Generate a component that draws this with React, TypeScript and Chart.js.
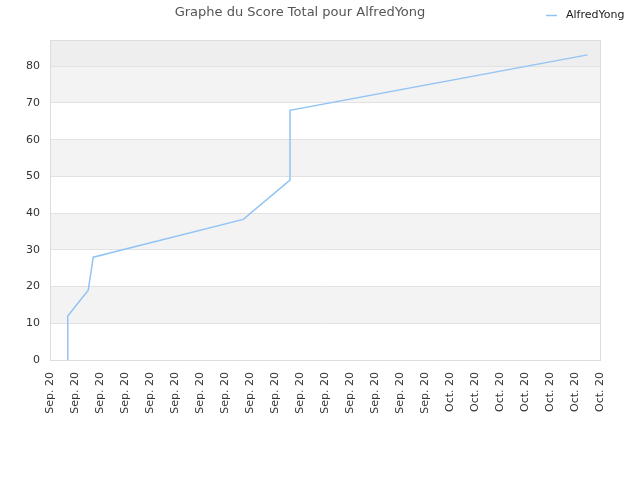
import { useEffect, useRef } from 'react';
import { Chart, registerables, Plugin } from 'chart.js';

Chart.register(...registerables);

// x positions are in label steps (0 = first "Sep. 20" tick)
const pointX = [0.68, 0.71, 1.53, 1.73, 7.73, 9.6, 9.6, 21.5];
const scores = [0, 12, 19, 28, 38.3, 49, 68, 83.1];

const xLabels = [
  'Sep. 20', 'Sep. 20', 'Sep. 20', 'Sep. 20', 'Sep. 20', 'Sep. 20', 'Sep. 20', 'Sep. 20',
  'Sep. 20', 'Sep. 20', 'Sep. 20', 'Sep. 20', 'Sep. 20', 'Sep. 20', 'Sep. 20', 'Sep. 20',
  'Oct. 20', 'Oct. 20', 'Oct. 20', 'Oct. 20', 'Oct. 20', 'Oct. 20', 'Oct. 20',
];

const playerName = 'AlfredYong';
const titleText = 'Graphe du Score Total pour AlfredYong';

const lineColor = 'rgb(146,196,244)';
const fontFamily = "'DejaVu Sans', sans-serif";

// alternating horizontal bands behind the grid
const bandsPlugin: Plugin = {
  id: 'bands',
  beforeDraw(chart) {
    const { ctx, chartArea } = chart;
    const y = chart.scales.y;
    const ticks = y.ticks;
    ctx.save();
    ticks.forEach((t, i) => {
      const next = i < ticks.length - 1 ? ticks[i + 1].value : y.max;
      const last = i === ticks.length - 1;
      if (i % 2 === 0 && !last) return;
      const top = y.getPixelForValue(next);
      const bottom = y.getPixelForValue(t.value);
      ctx.fillStyle = last ? '#eeeeee' : '#f3f3f3';
      ctx.fillRect(chartArea.left, top, chartArea.right - chartArea.left, bottom - top);
    });
    ctx.restore();
  },
  afterDraw(chart) {
    const { ctx, chartArea } = chart;
    ctx.save();
    ctx.strokeStyle = '#dddddd';
    ctx.lineWidth = 1;
    ctx.strokeRect(
      Math.round(chartArea.left) + 0.5,
      Math.round(chartArea.top) + 0.5,
      Math.round(chartArea.right - chartArea.left),
      Math.round(chartArea.bottom - chartArea.top),
    );
    // legend, top right
    ctx.strokeStyle = lineColor;
    ctx.lineWidth = 1.5;
    ctx.beginPath();
    ctx.moveTo(546, 15.5);
    ctx.lineTo(557, 15.5);
    ctx.stroke();
    ctx.fillStyle = '#222222';
    ctx.font = `11px ${fontFamily}`;
    ctx.textBaseline = 'middle';
    ctx.textAlign = 'left';
    ctx.fillText(playerName, 566, 15.5);
    ctx.restore();
  },
};

export default function App() {
  const canvasRef = useRef<HTMLCanvasElement>(null);

  useEffect(() => {
    if (!canvasRef.current) return;
    Chart.defaults.font.family = fontFamily;

    const chart = new Chart(canvasRef.current, {
      type: 'line',
      data: {
        datasets: [{
          label: playerName,
          data: pointX.map((x, i) => ({ x, y: scores[i] })),
          borderColor: lineColor,
          backgroundColor: lineColor,
          borderWidth: 1.5,
          pointRadius: 0,
          tension: 0,
          fill: false,
        }],
      },
      options: {
        animation: false,
        responsive: true,
        maintainAspectRatio: false,
        layout: { padding: { left: 0, right: 40, top: 0, bottom: 0 } },
        plugins: {
          legend: { display: false },
          tooltip: { enabled: false },
          title: {
            display: true,
            text: titleText,
            color: '#555555',
            font: { size: 13, weight: 'normal', family: fontFamily },
            padding: { top: 5, bottom: 19.4 },
          },
        },
        scales: {
          x: {
            type: 'linear',
            min: 0,
            max: xLabels.length - 1,
            grid: { display: false, drawTicks: false },
            border: { color: '#dddddd' },
            ticks: {
              stepSize: 1,
              autoSkip: false,
              maxRotation: 90,
              minRotation: 90,
              padding: 12,
              color: '#333333',
              font: { size: 11, family: fontFamily },
              callback: (v) => xLabels[Number(v)] ?? '',
            },
            afterFit: (s) => { s.height = 120; },
          },
          y: {
            min: 0,
            max: 87.15,
            grid: { color: '#e2e2e2', drawTicks: false },
            border: { color: '#dddddd' },
            ticks: {
              stepSize: 10,
              includeBounds: false,
              padding: 10,
              color: '#333333',
              font: { size: 11, family: fontFamily },
            },
            afterFit: (s) => { s.width = 50; },
          },
        },
      },
      plugins: [bandsPlugin],
    });

    return () => chart.destroy();
  }, []);

  return (
    <div style={{ position: 'absolute', left: 0, top: 0, width: 640, height: 480, background: '#ffffff' }}>
      <canvas ref={canvasRef} />
    </div>
  );
}
